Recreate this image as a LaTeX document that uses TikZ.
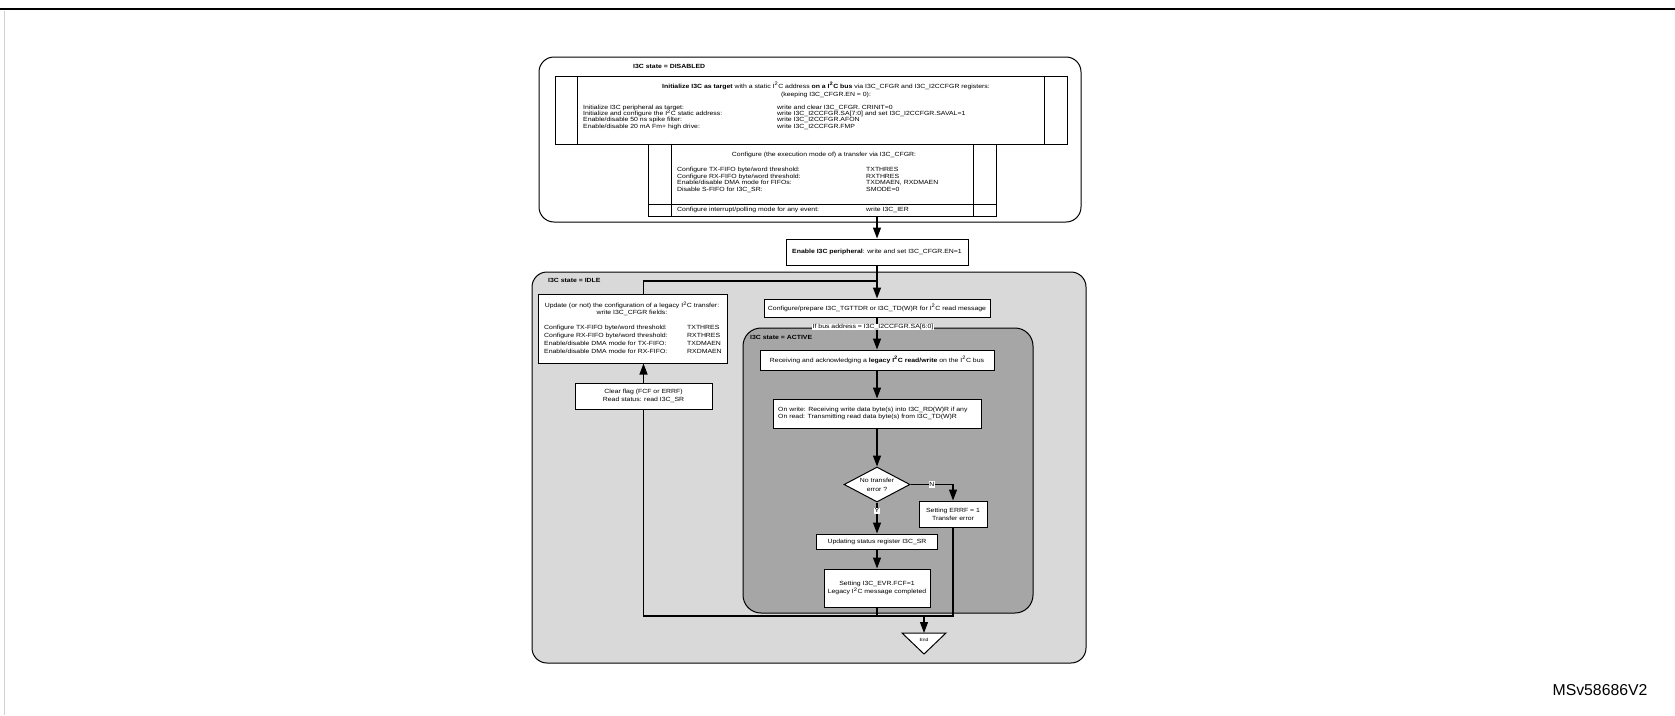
\documentclass[tikz,border=0pt]{standalone}
\usepackage{fontspec}
\setmainfont{Liberation Sans}[FakeStretch=1.15]
\newfontfamily\msvfont{Liberation Sans}
\usetikzlibrary{arrows.meta,shapes.geometric}
\newcommand\fsz{\fontsize{6}{8}\selectfont}
\newcommand\ii{I\textsuperscript{2}C}
\begin{document}
\begin{tikzpicture}[x=1pt,y=-1pt,
  ln/.style={line width=1.2pt},
  arr/.style={line width=1.2pt,-{Triangle[length=11pt,width=8pt]}},
  box/.style 2 args={draw,line width=1pt,fill=white,inner sep=0pt,minimum width=#1,minimum height=#2,align=center,font=\fsz},
  state/.style={draw,line width=1pt,inner sep=0pt},
  tx/.style={inner sep=0pt,font=\fsz,anchor=west,text height=4.3pt,text depth=1.2pt},
  ttl/.style={inner sep=0pt,font=\fsz,align=center},
  lbl/.style={inner sep=0.6pt,font=\fsz,fill=white,text height=4.3pt,text depth=1.2pt},
  sl/.style={inner sep=0pt,font=\fsz\bfseries,anchor=west,text height=4.3pt,text depth=1.2pt}]
\useasboundingbox (0,0) rectangle (1675,715);
% frame
\draw[line width=2pt] (0,9.3) -- (1675,9.3);
\draw[black!18,line width=1pt] (4,11) -- (4,715);

% ---------------- DISABLED ----------------
\node[state,fill=white,rounded corners=15pt,minimum width=542,minimum height=165] (dis) at (810,139.5) {};
\node[sl] (dislbl) at (633,67) {I3C state = DISABLED};

\node[box={512}{68}] (initb) at (811,110) {};
\draw[line width=1pt] ([xshift=23pt]initb.north west) -- ([xshift=23pt]initb.south west);
\draw[line width=1pt] ([xshift=-23pt]initb.north east) -- ([xshift=-23pt]initb.south east);
\node[ttl] (inittitle) at (826,90) {\textbf{Initialize I3C as target} with a static \ii{} address \textbf{on a \ii{} bus} via I3C\_CFGR and I3C\_I2CCFGR registers:\\(keeping I3C\_CFGR.EN = 0):};
\node[tx] (ia1) at (583,108) {Initialize I3C peripheral as target:};
\node[tx] (ia2) at (583,114.2) {Initialize and configure the \ii{} static address:};
\node[tx] (ia3) at (583,120.4) {Enable/disable 50 ns spike filter:};
\node[tx] (ia4) at (583,126.6) {Enable/disable 20 mA Fm+ high drive:};
\node[tx] (ib1) at (777,108) {write and clear I3C\_CFGR. CRINIT=0};
\node[tx] (ib2) at (777,114.2) {write I3C\_I2CCFGR.SA[7:0] and set I3C\_I2CCFGR.SAVAL=1};
\node[tx] (ib3) at (777,120.4) {write I3C\_I2CCFGR.AFON};
\node[tx] (ib4) at (777,126.6) {write I3C\_I2CCFGR.FMP};

\node[box={348}{72}] (cfgb) at (822,180) {};
\draw[line width=1pt] ([xshift=24pt]cfgb.north west) -- ([xshift=24pt]cfgb.south west);
\draw[line width=1pt] ([xshift=-23pt]cfgb.north east) -- ([xshift=-23pt]cfgb.south east);
\draw[line width=1pt] (648,204) -- (996,204);
\node[ttl] (cfgtitle) at (824,155) {Configure (the execution mode of) a transfer via I3C\_CFGR:};
\node[tx] (ca1) at (677,170) {Configure TX-FIFO byte/word threshold:};
\node[tx] (ca2) at (677,176.5) {Configure RX-FIFO byte/word threshold:};
\node[tx] (ca3) at (677,183) {Enable/disable DMA mode for FIFOs:};
\node[tx] (ca4) at (677,189.5) {Disable S-FIFO for I3C\_SR:};
\node[tx] (cb1) at (866,170) {TXTHRES};
\node[tx] (cb2) at (866,176.5) {RXTHRES};
\node[tx] (cb3) at (866,183) {TXDMAEN, RXDMAEN};
\node[tx] (cb4) at (866,189.5) {SMODE=0};
\node[tx] (ca5) at (677,210) {Configure interrupt/polling mode for any event:};
\node[tx] (cb5) at (866,210) {write I3C\_IER};

% ---------------- Enable ----------------
\node[box={182}{26}] (enb) at (877,252) {\textbf{Enable I3C peripheral}: write and set I3C\_CFGR.EN=1};
\draw[arr] (cfgb.south -| enb.north) -- (enb.north);

% ---------------- IDLE ----------------
\node[state,fill=black!15,rounded corners=15pt,minimum width=554,minimum height=391] (idle) at (809,467.5) {};
\node[sl] (idlelbl) at (548,281) {I3C state = IDLE};

\node[box={189}{69}] (upd) at (632.5,328.5) {};
\node[ttl,font=\fontsize{6}{7}\selectfont] (updtitle) at (632,309) {Update (or not) the configuration of a legacy \ii{} transfer:\\write I3C\_CFGR fields:};
\node[tx] (ua1) at (544,328) {Configure TX-FIFO byte/word threshold:};
\node[tx] (ua2) at (544,336) {Configure RX-FIFO byte/word threshold:};
\node[tx] (ua3) at (544,344) {Enable/disable DMA mode for TX-FIFO:};
\node[tx] (ua4) at (544,352) {Enable/disable DMA mode for RX-FIFO:};
\node[tx] (ub1) at (687,328) {TXTHRES};
\node[tx] (ub2) at (687,336) {RXTHRES};
\node[tx] (ub3) at (687,344) {TXDMAEN};
\node[tx] (ub4) at (687,352) {RXDMAEN};

\node[box={137}{26}] (clr) at (643.5,396) {Clear flag (FCF or ERRF)\\Read status: read I3C\_SR};

\node[box={226}{18}] (cpb) at (877,308) {Configure/prepare I3C\_TGTTDR or I3C\_TD(W)R for \ii{} read message};
\coordinate (j1) at (877,281);
\draw[arr] (enb.south) -- (cpb.north);
\draw[ln] (clr.north |- upd.north) -- (clr.north |- j1) -- (j1);
\draw[arr] (clr.north) -- (clr.north |- upd.south);

% ---------------- ACTIVE ----------------
\node[state,fill=black!35,rounded corners=18pt,minimum width=290,minimum height=285] (act) at (888,470.5) {};
\node[sl] (actlbl) at (750,338) {I3C state = ACTIVE};

\node[box={234}{20}] (rcv) at (877,360) {Receiving and acknowledging a \textbf{legacy \ii{} read/write} on the \ii{} bus};
\draw[arr] (cpb.south) -- node[lbl,pos=0.3,xshift=-4pt] (buslbl) {If bus address = I3C\_I2CCFGR.SA[6:0]} (rcv.north);

\node[box={208}{29}] (onw) at (877,413.5) {};
\node[inner sep=0pt,font=\fontsize{6}{7}\selectfont,align=left,anchor=west] (onwtxt) at (778,413.5) {On write: Receiving write data byte(s) into I3C\_RD(W)R if any\\On read: Transmitting read data byte(s) from I3C\_TD(W)R};
\draw[arr] (rcv.south) -- (onw.north);

\node[draw,line width=1pt,fill=white,diamond,aspect=1.9,minimum width=66,minimum height=35,inner sep=0pt,align=center,font=\fontsize{6}{9}\selectfont] (dia) at (877,484.5) {No transfer\\error ?};
\draw[arr] (onw.south) -- (dia.north);

\node[box={68}{26}] (err) at (953,514) {Setting ERRF = 1\\Transfer error};
\draw[arr] (dia.east) -- node[lbl,pos=0.5] (nlbl) {N} (err.north |- dia.east) -- (err.north);

\node[box={121}{15}] (updt) at (877,541.5) {Updating status register I3C\_SR};
\draw[arr] (dia.south) -- node[lbl,pos=0.27] (ylbl) {Y} (updt.north);

\node[box={106}{38}] (fcf) at (877,588) {Setting I3C\_EVR.FCF=1\\Legacy \ii{} message completed};
\draw[arr] (updt.south) -- (fcf.north);

% ---------------- loop and end ----------------
\coordinate (lpl) at (643.5,616);
\coordinate (endtop) at (924,633);
\draw[ln] (err.south) -- (err.south |- lpl) -- (lpl) -- (clr.south);
\draw[ln] (fcf.south) -- (fcf.south |- lpl);
\draw[arr] (endtop |- lpl) -- (endtop);
\draw[line width=1pt,fill=white] (902,633) -- (946,633) -- (924,654) -- cycle;
\node[inner sep=0pt,font=\fontsize{4.4}{5}\selectfont] (endlbl) at (924,639.5) {End};

\node[inner sep=0pt,font=\msvfont\fontsize{15.8}{18}\selectfont] (msv) at (1600,690) {MSv58686V2};
\end{tikzpicture}
\end{document}
